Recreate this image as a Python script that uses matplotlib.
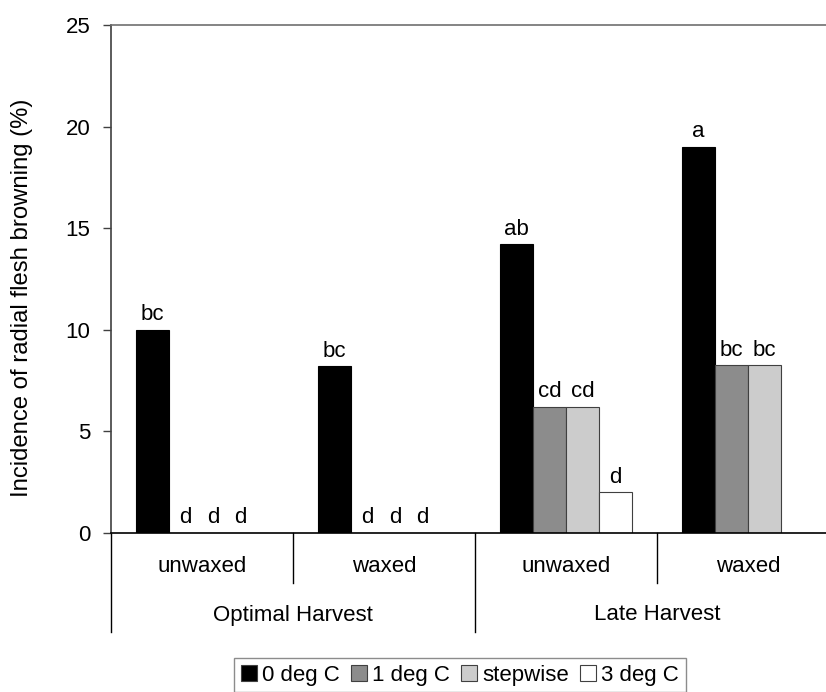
import numpy as np
import matplotlib.pyplot as plt
from matplotlib.patches import Patch

plt.rcParams['font.family'] = ['Liberation Sans', 'DejaVu Sans']

groups = ["unwaxed", "waxed", "unwaxed", "waxed"]
harvests = ["Optimal Harvest", "Late Harvest"]
series = ["0 deg C", "1 deg C", "stepwise", "3 deg C"]
colors = ["#000000", "#8c8c8c", "#cccccc", "#ffffff"]

# values per series across the 4 groups (nan = no bar)
deg0 = [10.0, 8.2, 14.2, 19.0]
deg1 = [0.0, 0.0, 6.2, 8.25]
stepwise = [0.0, 0.0, 6.2, 8.25]
deg3 = [0.0, 0.0, 2.0, np.nan]
values = [deg0, deg1, stepwise, deg3]

lab0 = ["bc", "bc", "ab", "a"]
lab1 = ["d", "d", "cd", "bc"]
lab_step = ["d", "d", "cd", "bc"]
lab3 = ["d", "d", "d", ""]
letters = [lab0, lab1, lab_step, lab3]

fs = 16

fig = plt.figure(figsize=(8.26, 6.92), dpi=100)
W, H = 826, 692
left, right, top, bottom = 111, 839, 25, 533
ax = fig.add_axes([left / W, 1 - bottom / H, (right - left) / W, (bottom - top) / H])

bw = 1 / 5.5
x0 = np.arange(len(groups)) + 0.75 * bw
for i, (vals, labs) in enumerate(zip(values, letters)):
    xs = x0 + (i + 0.5) * bw
    v = np.array(vals)
    ec = "#000000" if i == 0 else "#404040"
    ax.bar(xs, np.nan_to_num(v), width=bw, color=colors[i], edgecolor=ec, linewidth=0.8)
    for x, val, lab in zip(xs, v, labs):
        if np.isnan(val) or lab == "":
            continue
        dx = -(i - 1) * 4 if val == 0 else 0
        ax.annotate(lab, (x, val), xytext=(dx, 7), textcoords="offset points",
                    ha="center", va="baseline", fontsize=fs)

ax.set_xlim(0, 4)
ax.set_ylim(0, 25)
ax.set_yticks([0, 5, 10, 15, 20, 25])
ax.set_xticks([])
ax.tick_params(axis="y", labelsize=fs, length=6, width=1, color="#404040", pad=9)
ax.set_ylabel("Incidence of radial flesh browning (%)", fontsize=17.2)
ax.yaxis.set_label_coords(-(left - 22) / (right - left), (bottom - 298) / (bottom - top))
ax.yaxis.label.set_va("center")

ax.spines["left"].set_color("#404040")
ax.spines["left"].set_linewidth(1.2)
ax.spines["top"].set_color("#707070")
ax.spines["top"].set_linewidth(1.2)
ax.spines["right"].set_visible(False)
ax.spines["bottom"].set_color("#000000")
ax.spines["bottom"].set_linewidth(1.2)

# two-level category axis
trans = ax.get_xaxis_transform()
ph = bottom - top
y_sub = -(583 - bottom) / ph
y_main = -(632 - bottom) / ph
for g in [1, 3]:
    ax.plot([g, g], [0, y_sub], transform=trans, color="#000000", lw=1, clip_on=False)
for g in [0, 2, 4]:
    ax.plot([g, g], [0, y_main], transform=trans, color="#000000", lw=1, clip_on=False)
for g, name in enumerate(groups):
    ax.text(g + 0.5, -(567 - bottom) / ph, name, transform=trans, ha="center",
            va="center", fontsize=fs)
for h, name in enumerate(harvests):
    ax.text(2 * h + 1, -(615 - bottom) / ph, name, transform=trans, ha="center",
            va="center", fontsize=fs)

handles = [Patch(facecolor=c, edgecolor="#404040", linewidth=0.8) for c in colors]
leg = fig.legend(handles, series, loc="upper center", bbox_to_anchor=(460 / W, 1 - 658 / H),
                 ncol=4, fontsize=fs, frameon=True, fancybox=False, handlelength=0.7,
                 handleheight=0.7, handletextpad=0.25, columnspacing=0.5,
                 borderpad=0.3, borderaxespad=0)
leg.get_frame().set_edgecolor("#707070")
leg.get_frame().set_linewidth(1)

fig.savefig("out.png", dpi=100)
